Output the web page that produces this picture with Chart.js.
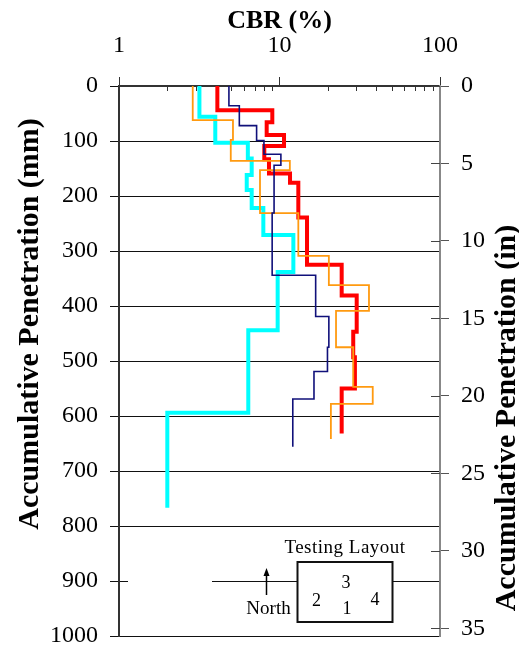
<!DOCTYPE html>
<html><head><meta charset="utf-8">
<script src="https://cdn.jsdelivr.net/npm/chart.js@4.4.1/dist/chart.umd.min.js"></script>
<style>html,body{margin:0;padding:0;background:#fff;}canvas{display:block;}</style>
</head><body>
<canvas id="c" width="519" height="648"></canvas>
<script>
// ---- data ----
const xMajorLabels = [1, 10, 100];
const xMinorTicks = [2,3,4,5,6,7,8,9,20,30,40,50,60,70,80,90];
const yTicksMm = [0,100,200,300,400,500,600,700,800,900,1000];
const yTicksIn = [0,5,10,15,20,25,30,35];

// layer boundaries (mm) and CBR (%) of each layer
const navyDepth = [0,36,72,99,124,144,231,344,419,475,519,569,656];
const navyCBR   = [4.84,5.62,7.2,8.0,10.2,9.25,9.0,16.8,20.3,19.9,16.4,12.1];

const orangeDepth = [0,62,98,136,153,231,309,362,409,475,547,578,642];
const orangeCBR   = [2.88,5.13,4.97,11.6,7.56,13.1,20.3,36.1,22.5,28.8,38.1,20.9];

const cyanDepth = [0,56,103,132,162,189,222,271,338,444,594,767];
const cyanCBR   = [3.17,3.98,6.35,6.71,6.25,6.71,7.93,12.2,9.74,6.39,2.0];

const redDepth = [0,44,66,89,109,133,159,176,239,325,381,447,493,550,632];
const redCBR   = [4.10,9.02,8.32,10.67,8.04,8.60,11.63,13.1,14.84,24.4,30.27,28.8,29.5,24.4];

function profile(depths, cbr) {
  const pts = cbr.map((c, i) => ({x: c, y: depths[i]}));
  pts.push({x: cbr[cbr.length - 1], y: depths[depths.length - 1]});
  return pts;
}

const SERIF = '"Liberation Serif", "DejaVu Serif", serif';
const tickFont = {family: SERIF, size: 24};

function noPad(s) { s.paddingTop = 0; s.paddingBottom = 0; s.paddingLeft = 0; s.paddingRight = 0; }

const overlay = {
  id: 'overlay',
  beforeDatasetsDraw(chart) {
    const {ctx, chartArea: a, scales} = chart;
    ctx.save();
    // gap in the 900 gridline
    const y9 = scales.y.getPixelForValue(900);
    ctx.fillStyle = '#fff';
    ctx.fillRect(a.left + 9, y9 - 2, 84, 4);
    // inward minor ticks on top axis
    ctx.strokeStyle = '#333'; ctx.lineWidth = 1;
    xMinorTicks.forEach(v => {
      const x = Math.round(scales.x.getPixelForValue(v)) + 0.5;
      ctx.beginPath(); ctx.moveTo(x, a.top); ctx.lineTo(x, a.top + 5); ctx.stroke();
    });
    // inward ticks on right axis
    ctx.strokeStyle = '#444';
    yTicksIn.forEach(v => {
      const y = Math.round(scales.y2.getPixelForValue(v)) + 0.5;
      ctx.beginPath(); ctx.moveTo(a.right - 9, y); ctx.lineTo(a.right, y); ctx.stroke();
    });
    ctx.restore();
  },
  afterDraw(chart) {
    const {ctx, chartArea: a} = chart;
    ctx.save();
    ctx.fillStyle = '#000';
    // titles
    ctx.font = 'bold 26px ' + SERIF;
    ctx.textAlign = 'center'; ctx.textBaseline = 'alphabetic';
    ctx.fillText('CBR (%)', (a.left + a.right) / 2, 28);
    ctx.font = 'bold 30px ' + SERIF;
    ctx.save();
    ctx.translate(38, 324); ctx.rotate(-Math.PI / 2);
    ctx.fillText('Accumulative Penetration (mm)', 0, 0);
    ctx.restore();
    ctx.save();
    ctx.translate(515, 418); ctx.rotate(-Math.PI / 2);
    ctx.fillText('Accumulative Penetration (in)', 0, 0);
    ctx.restore();
    // inset: testing layout
    ctx.font = '19px ' + SERIF;
    ctx.letterSpacing = '0.5px';
    ctx.fillText('Testing Layout', 345, 553);
    ctx.letterSpacing = '0px';
    ctx.fillStyle = '#fff';
    ctx.fillRect(297.5, 562, 95, 60);
    ctx.strokeStyle = '#111'; ctx.lineWidth = 2;
    ctx.strokeRect(297.5, 562, 95, 60);
    ctx.fillStyle = '#000';
    ctx.font = '18px ' + SERIF;
    ctx.fillText('3', 346, 588);
    ctx.fillText('2', 316.5, 605.5);
    ctx.fillText('1', 347, 614);
    ctx.fillText('4', 375, 605);
    ctx.font = '19px ' + SERIF;
    ctx.fillText('North', 268.5, 614);
    // arrow
    ctx.strokeStyle = '#000'; ctx.lineWidth = 1.5;
    ctx.beginPath(); ctx.moveTo(266.5, 595); ctx.lineTo(266.5, 574); ctx.stroke();
    ctx.beginPath(); ctx.moveTo(266.5, 568); ctx.lineTo(263.5, 576); ctx.lineTo(269.5, 576); ctx.closePath(); ctx.fill();
    ctx.restore();
  }
};

const ds = (label, depths, cbr, color, width) => ({
  label, data: profile(depths, cbr), borderColor: color, borderWidth: width,
  showLine: true, stepped: 'after', pointRadius: 0, fill: false,
  borderJoinStyle: 'miter', borderCapStyle: 'butt', yAxisID: 'y'
});

new Chart(document.getElementById('c'), {
  type: 'scatter',
  data: {
    datasets: [
      ds('1', navyDepth, navyCBR, '#10107a', 1.6),
      ds('2', orangeDepth, orangeCBR, '#ff9a10', 1.8),
      ds('3', cyanDepth, cyanCBR, '#00ffff', 4),
      ds('4', redDepth, redCBR, '#ff0000', 4),
    ]
  },
  options: {
    responsive: false, animation: false, devicePixelRatio: 1,
    layout: {padding: {top: 0, left: 0, right: 0, bottom: 12}},
    plugins: {legend: {display: false}, tooltip: {enabled: false}},
    scales: {
      x: {
        type: 'logarithmic', position: 'top', min: 1, max: 100,
        afterFit(s) { s.height = 86; noPad(s); },
        ticks: {
          autoSkip: false, maxRotation: 0, padding: 17, font: tickFont, color: '#000',
          callback: v => xMajorLabels.includes(v) ? String(v) : ''
        },
        grid: {
          drawOnChartArea: false, drawTicks: true, tickLength: 9, lineWidth: 1,
          color: c => (c.tick && xMajorLabels.includes(c.tick.value)) ? '#333' : 'rgba(0,0,0,0)'
        },
        border: {color: '#333', width: 2}
      },
      y: {
        type: 'linear', position: 'left', reverse: true, min: 0, max: 1000,
        afterFit(s) { s.width = 119; noPad(s); },
        afterBuildTicks(s) { s.ticks = yTicksMm.map(v => ({value: v})); },
        ticks: {padding: 12, font: tickFont, color: '#000', callback: v => String(v)},
        grid: {color: '#111', lineWidth: 1, tickLength: 9},
        border: {color: '#333', width: 2}
      },
      y2: {
        type: 'linear', position: 'right', reverse: true, min: 0, max: 35.5,
        afterFit(s) { s.width = 79; noPad(s); },
        afterBuildTicks(s) { s.ticks = yTicksIn.map(v => ({value: v})); },
        ticks: {padding: 12, font: tickFont, color: '#000', callback: v => String(v)},
        grid: {drawOnChartArea: false, tickLength: 9, color: '#555'},
        border: {color: '#888', width: 2}
      }
    }
  },
  plugins: [overlay]
});
</script>
</body></html>
